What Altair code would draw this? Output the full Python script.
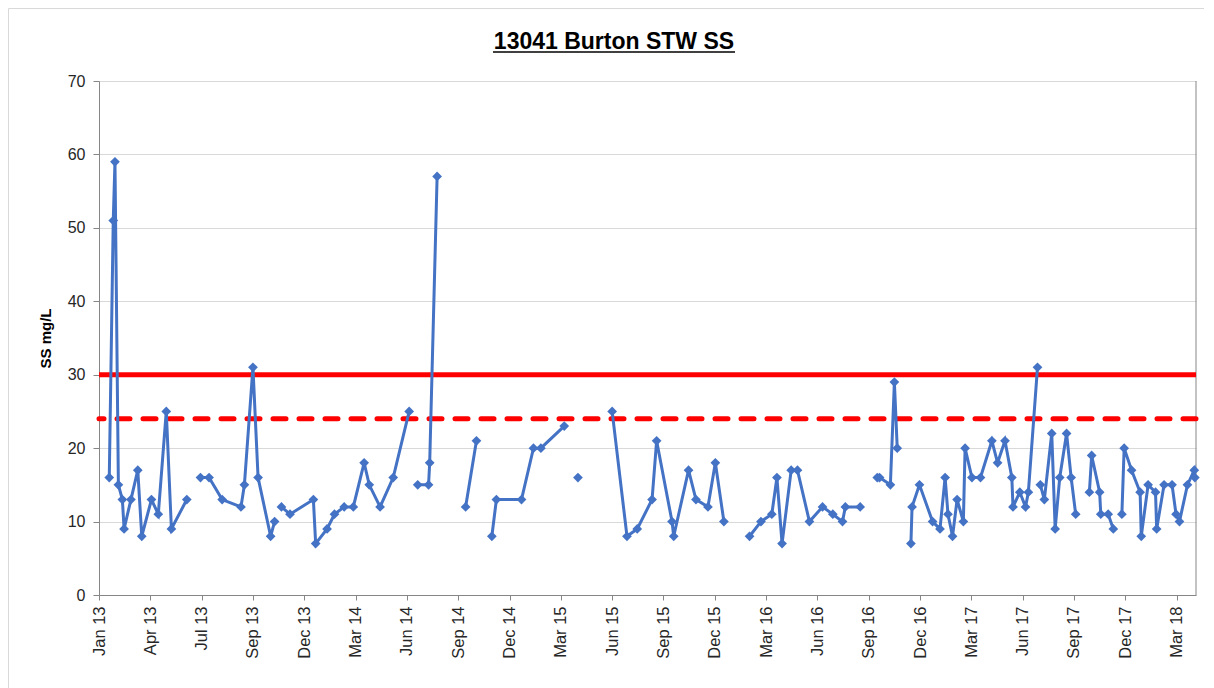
import altair as alt
import pandas as pd

# ---- data ----
dates = [
    "2013-01-20", "2013-01-27", "2013-01-30", "2013-02-05", "2013-02-12", "2013-02-15",
    "2013-02-27", "2013-03-11", "2013-03-18", "2013-04-04", "2013-04-16", "2013-04-30",
    "2013-05-09", "2013-06-05",
    "2013-06-29", "2013-07-14", "2013-08-06", "2013-09-08", "2013-09-14", "2013-09-29",
    "2013-10-08", "2013-10-30", "2013-11-06",
    "2013-11-18", "2013-12-03", "2014-01-13", "2014-01-17", "2014-02-06", "2014-02-19",
    "2014-03-08", "2014-03-24", "2014-04-12", "2014-04-21", "2014-05-10", "2014-06-02",
    "2014-06-30",
    "2014-07-15", "2014-08-03", "2014-08-05", "2014-08-18",
    "2014-10-07", "2014-10-26",
    "2014-11-22", "2014-11-30", "2015-01-13", "2015-02-03", "2015-02-16", "2015-03-29",
    "2015-04-22",
    "2015-06-21", "2015-07-17", "2015-08-04", "2015-08-30", "2015-09-07", "2015-10-04",
    "2015-10-07", "2015-11-02", "2015-11-15", "2015-12-06", "2015-12-19", "2016-01-03",
    "2016-02-17", "2016-03-08", "2016-03-27", "2016-04-05", "2016-04-14", "2016-04-30",
    "2016-05-11", "2016-06-01", "2016-06-24", "2016-07-12", "2016-07-29", "2016-08-03",
    "2016-08-29",
    "2016-09-28", "2016-10-02", "2016-10-21", "2016-10-28", "2016-11-02",
    "2016-11-26", "2016-11-28", "2016-12-11", "2017-01-03", "2017-01-16", "2017-01-25",
    "2017-01-30", "2017-02-07", "2017-02-15", "2017-02-26", "2017-03-01", "2017-03-13",
    "2017-03-28", "2017-04-17", "2017-04-27", "2017-05-10", "2017-05-22", "2017-05-24",
    "2017-06-05", "2017-06-15", "2017-06-20", "2017-07-06",
    "2017-07-11", "2017-07-18", "2017-07-31", "2017-08-06", "2017-08-14", "2017-08-26",
    "2017-09-03", "2017-09-11",
    "2017-10-05", "2017-10-09", "2017-10-23", "2017-10-25", "2017-11-07", "2017-11-16",
    "2017-12-01", "2017-12-05", "2017-12-18", "2018-01-02", "2018-01-04", "2018-01-16",
    "2018-01-29", "2018-01-31", "2018-02-13", "2018-02-27", "2018-03-06", "2018-03-12",
    "2018-03-26", "2018-04-07", "2018-04-08",
]
ss_values = [
    16, 51, 59, 15, 13, 9, 13, 17, 8, 13, 11, 25, 9, 13,
    16, 16, 13, 12, 15, 31, 16, 8, 10,
    12, 11, 13, 7, 9, 11, 12, 12, 18, 15, 12, 16, 25,
    15, 15, 18, 57,
    12, 21,
    8, 13, 13, 20, 20, 23,
    16,
    25, 8, 9, 13, 21, 10, 8, 17, 13, 12, 18, 10,
    8, 10, 11, 16, 7, 17, 17, 10, 12, 11, 10, 12, 12,
    16, 16, 15, 29, 20,
    7, 12, 15, 10, 9, 16, 11, 8, 13, 10, 20, 16, 16, 21, 18, 21, 16, 12, 14, 12, 14, 31,
    15, 13, 22, 9, 16, 22, 16, 11,
    14, 19, 14, 11, 11, 9,
    11, 20, 17, 14, 8, 15, 14, 9, 15, 15, 11, 10, 15, 17, 16,
]
# sample numbers (0-based) where the plotted line breaks and starts again
segment_starts = [0, 14, 23, 36, 40, 42, 48, 49, 61, 74, 79, 101, 109, 115]

limit_solid = 30
limit_dashed = 24

tick_dates = [
    "2013-01-02", "2013-04-02", "2013-07-01", "2013-09-29", "2013-12-28", "2014-03-28",
    "2014-06-26", "2014-09-24", "2014-12-23", "2015-03-23", "2015-06-21", "2015-09-19",
    "2015-12-18", "2016-03-17", "2016-06-15", "2016-09-13", "2016-12-12", "2017-03-12",
    "2017-06-10", "2017-09-08", "2017-12-07", "2018-03-07",
]
x_start, x_end = "2013-01-02", "2018-04-10"
y_ticks = [0, 10, 20, 30, 40, 50, 60, 70]

title_text = "13041 Burton STW SS"
y_title = "SS mg/L"

# ---- build table ----
seg = []
s = -1
for i in range(len(dates)):
    if i in segment_starts:
        s += 1
    seg.append(s)
df = pd.DataFrame({"date": dates, "ss": ss_values, "seg": seg})
one = pd.DataFrame({"k": [0]})


def ms(d):
    return int(pd.Timestamp(d, tz="UTC").value // 10**6)


tick_ms = [ms(d) for d in tick_dates]
dom = [ms(x_start), ms(x_end)]

W, H = 1097, 514
FONT = "Liberation Sans"
BLUE = "#4472C4"

x_enc = alt.X(
    "date:T",
    scale=alt.Scale(type="utc", domain=dom, nice=False),
    axis=alt.Axis(
        values=tick_ms, labelExpr="utcFormat(datum.value, '%b %y')", labelAngle=270,
        grid=False, tickSize=5, tickColor="#868686", domainColor="#868686",
        labelFontSize=16.5, labelColor="#262626", labelFont=FONT, labelPadding=6,
        title=None, labelOverlap=False,
    ),
)
y_enc = alt.Y(
    "ss:Q",
    scale=alt.Scale(domain=[0, 70], nice=False),
    axis=alt.Axis(
        values=y_ticks, grid=True, gridColor="#d9d9d9", gridWidth=1,
        tickSize=6, tickColor="#868686", domainColor="#868686",
        labelFontSize=16, labelColor="#262626", labelFont=FONT, labelPadding=8,
        title=y_title, titleFont=FONT, titleFontSize=15, titleFontWeight="bold",
        titleColor="#000000", titlePadding=14,
    ),
)

base = alt.Chart(df)
line = base.mark_line(color=BLUE, strokeWidth=3).encode(x=x_enc, y=y_enc, detail="seg:N")
pts = base.mark_point(shape="diamond", filled=True, color=BLUE, size=95, opacity=1).encode(
    x="date:T", y="ss:Q"
)

lim_df = pd.DataFrame({"v": [limit_solid, limit_dashed], "k": ["solid", "dashed"]})
solid = alt.Chart(lim_df[lim_df.k == "solid"]).mark_rule(color="#ff0000", strokeWidth=5).encode(
    y="v:Q"
)
dashed = alt.Chart(lim_df[lim_df.k == "dashed"]).mark_rule(
    color="#ff0000", strokeWidth=5, strokeDash=[13, 13], strokeCap="round"
).encode(y="v:Q")

right_border = alt.Chart(one).mark_rule(color="#868686", strokeWidth=1).encode(
    x=alt.value(W), y=alt.value(0), y2=alt.value(H)
)
title_mark = alt.Chart(one).mark_text(
    text=title_text, font=FONT, fontSize=23, fontWeight="bold", color="#000000",
    align="center", baseline="alphabetic",
).encode(x=alt.value(515), y=alt.value(-32))
underline = alt.Chart(one).mark_rule(color="#000000", strokeWidth=1.5).encode(
    x=alt.value(394), x2=alt.value(636), y=alt.value(-29)
)
frame = alt.Chart(one).mark_rect(fill=None, stroke="#d9d9d9", strokeWidth=1).encode(
    x=alt.value(-90.5), x2=alt.value(1107), y=alt.value(-72.5), y2=alt.value(H + 200)
)

chart = (
    alt.layer(frame, right_border, solid, dashed, line, pts, title_mark, underline)
    .properties(
        width=W,
        height=H,
        autosize=alt.AutoSizeParams(type="none"),
        padding={"left": 91, "top": 73, "right": 8, "bottom": 93},
    )
    .configure_view(stroke=None)
)

chart.save("out.html", embed_options={"renderer": "svg", "actions": False})
